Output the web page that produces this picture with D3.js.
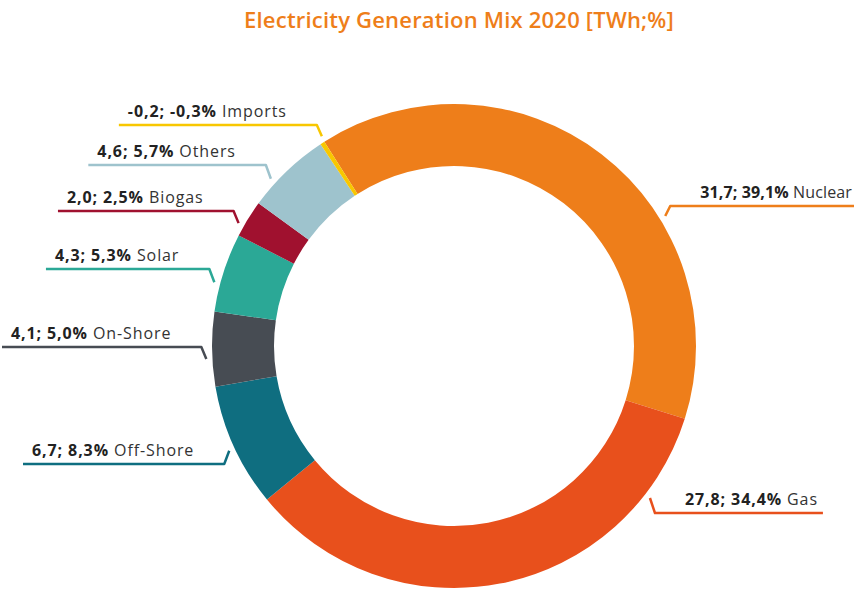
<!DOCTYPE html>
<html><head><meta charset="utf-8">
<script src="https://cdn.jsdelivr.net/npm/d3@7/dist/d3.min.js"></script>
<style>
html,body{margin:0;padding:0;background:#fff;}
svg{display:block;}
text{font-family:"Open Sans","DejaVu Sans",sans-serif;}
</style></head>
<body>
<svg id="chart" width="854" height="591"></svg>
<script>
// ---- data ----
const title = "Electricity Generation Mix 2020 [TWh;%]";
const categories = ["Nuclear","Gas","Off-Shore","On-Shore","Solar","Biogas","Others","Imports"];
const twh = ["31,7","27,8","6,7","4,1","4,3","2,0","4,6","-0,2"];
const pct = [39.1, 34.4, 8.3, 5.0, 5.3, 2.5, 5.7, -0.3];
const pctLabels = ["39,1%","34,4%","8,3%","5,0%","5,3%","2,5%","5,7%","-0,3%"];
const colors = ["#EE7E1A","#E8501C","#0F6E80","#474C53","#2BA896","#A0112F","#9EC3CD","#F8C700"];

// ---- layout (label placement) ----
const layout = {
  "Nuclear":  {side:"right", angle:58.4, lineY:206},
  "Gas":      {side:"right", angle:127.8, lineY:513},
  "Off-Shore":{side:"left", angle:245, lineY:464},
  "On-Shore": {side:"left", angle:267, lineY:347},
  "Solar":    {side:"left", angle:284.9, lineY:269},
  "Biogas":   {side:"left", angle:299.7, lineY:211},
  "Others":   {side:"left", angle:312.4, lineY:165},
  "Imports":  {side:"left", angle:327.8, lineY:125}
};

const W = 854;
const svg = d3.select("#chart");
const cx = 454, cy = 346, R = 242, r = 180;
const startDeg = -32.4;
const toRad = d => d*Math.PI/180;

svg.append("text").attr("x", 459).attr("y", 28).attr("text-anchor","middle")
  .attr("fill","#EE7E1A").attr("font-size", 22).attr("font-weight", 600)
  .attr("letter-spacing", 0.2).text(title);

const data = categories.map((c,i)=>({cat:c, twh:twh[i], pct:pct[i], pl:pctLabels[i], color:colors[i]}));
const pie = d3.pie().sort(null).value(d=>Math.abs(d.pct))
  .startAngle(toRad(startDeg)).endAngle(toRad(startDeg)+2*Math.PI);
const arc = d3.arc().innerRadius(r).outerRadius(R);
const g = svg.append("g").attr("transform",`translate(${cx},${cy})`);
g.selectAll("path").data(pie(data)).join("path")
  .attr("d", arc).attr("fill", d=>d.data.color);

const lab = svg.append("g");
data.forEach(d=>{
  const L = layout[d.cat];
  const a = toRad(L.angle);
  const rt = R + 6;
  const tip = [cx + rt*Math.sin(a), cy - rt*Math.cos(a)];
  const cornerY = L.lineY;
  const corner = [tip[0] + (L.side==="left" ? -5 : 5), cornerY];
  const t = lab.append("text").attr("y", cornerY - 8.5).attr("font-size", 16)
    .attr("letter-spacing", 0.9).attr("fill","#222");
  t.append("tspan").attr("font-weight",700).text(`${d.twh}; ${d.pl}`);
  t.append("tspan").attr("font-weight",400).attr("fill","#333").text(` ${d.cat}`);
  let x0, x1;
  if (L.side==="left") {
    t.attr("text-anchor","end").attr("x", corner[0]-30);
    const w = t.node().getComputedTextLength();
    x0 = corner[0]-30-w-9; x1 = corner[0];
  } else {
    const tx = corner[0]+30;
    t.attr("text-anchor","start").attr("x", tx);
    let w = t.node().getComputedTextLength();
    const avail = W - 2 - tx;
    if (w > avail) {
      const n = (`${d.twh}; ${d.pl} ${d.cat}`).length;
      const ls = Math.max(0, 0.9 - (w - avail)/n);
      t.attr("letter-spacing", ls);
      w = t.node().getComputedTextLength();
      if (w > avail) { t.attr("font-size", 16*avail/w); w = t.node().getComputedTextLength(); }
    }
    x0 = corner[0]; x1 = Math.min(W, tx+w+5);
  }
  const pts = L.side==="left" ? [[x0,cornerY],[x1,cornerY],tip] : [tip,[x0,cornerY],[x1,cornerY]];
  lab.append("path").attr("d", d3.line()(pts)).attr("fill","none")
    .attr("stroke", d.color).attr("stroke-width", 2.5).attr("stroke-linejoin","round");
});
</script>
</body></html>
